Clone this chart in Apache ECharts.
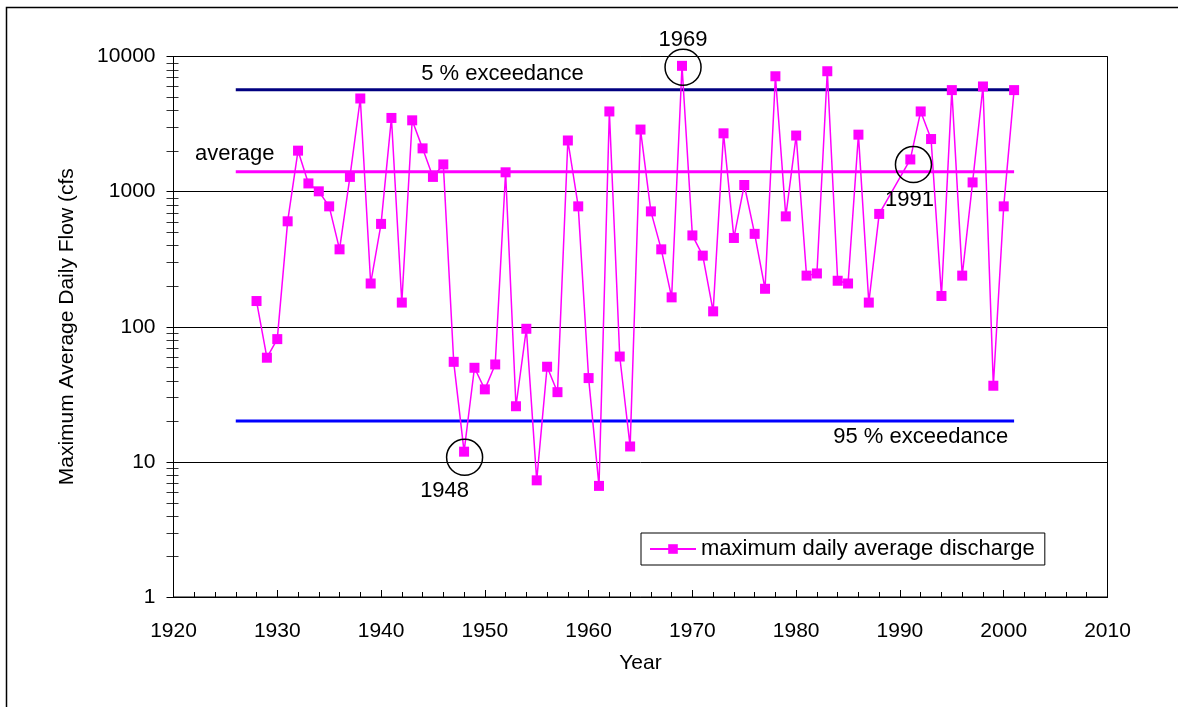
<!DOCTYPE html>
<html>
<head>
<meta charset="utf-8">
<script src="https://cdn.jsdelivr.net/npm/echarts@6/dist/echarts.min.js"></script>
<style>
  html, body { margin: 0; padding: 0; background: #fff; }
  #chart { width: 1178px; height: 707px; }
</style>
</head>
<body>
<div id="chart"></div>
<script>
// Annual maximum average daily flow (cfs); 1989 and 1990 are missing from the record.
const years = [
  1928, 1929, 1930, 1931, 1932, 1933, 1934, 1935, 1936, 1937,
  1938, 1939, 1940, 1941, 1942, 1943, 1944, 1945, 1946, 1947,
  1948, 1949, 1950, 1951, 1952, 1953, 1954, 1955, 1956, 1957,
  1958, 1959, 1960, 1961, 1962, 1963, 1964, 1965, 1966, 1967,
  1968, 1969, 1970, 1971, 1972, 1973, 1974, 1975, 1976, 1977,
  1978, 1979, 1980, 1981, 1982, 1983, 1984, 1985, 1986, 1987,
  1988, 1991, 1992, 1993, 1994, 1995, 1996, 1997, 1998, 1999,
  2000, 2001
];
const flows = [
  155, 59, 81, 603, 2010, 1150, 1005, 778, 374, 1285,
  4890, 209, 577, 3510, 151, 3370, 2090, 1285, 1590, 55,
  11.9, 49.7, 34.4, 52.6, 1390, 25.8, 96.6, 7.3, 50.6, 32.8,
  2390, 778, 41.7, 6.64, 3920, 60.2, 13.0, 2880, 714, 374,
  165, 8530, 474, 336, 130, 2700, 454, 1120, 487, 191,
  7140, 656, 2600, 239, 248, 7780, 219, 209, 2640, 151,
  684, 1730, 3920, 2450, 169, 5640, 239, 1170, 6000, 36.6,
  778, 5640
];

// Reference levels and the period they span
const refSpan = [1926, 2001];
const averageFlow = 1406;
const exceed5 = 5664;
const exceed95 = 20.1;

// Axis settings
const yearTicks = { min: 1920, max: 2010, interval: 10 };
const flowTicks = { min: 1, max: 10000 };

// Highlighted years
const highlightYears = ['1948', '1969', '1991'];

const FONT = 'Liberation Sans, Arial, sans-serif';
const seriesName = 'maximum daily average discharge';

const chart = echarts.init(document.getElementById('chart'), null, { renderer: 'canvas' });

const refSeries = (name, value, color) => ({
  name: name,
  type: 'line',
  data: refSpan.map(y => [y, value]),
  symbol: 'none',
  silent: true,
  lineStyle: { color: color, width: 3 },
  z: 1
});

const textMark = (coord, text) => ({
  coord: coord,
  symbol: 'circle',
  symbolSize: 1,
  itemStyle: { color: 'rgba(0,0,0,0)' },
  label: {
    show: true, position: 'inside', formatter: text,
    color: '#000', fontSize: 22, fontFamily: FONT
  }
});

const circleMark = (coord, text, offset) => ({
  coord: coord,
  symbol: 'circle',
  symbolSize: 36,
  itemStyle: { color: 'rgba(0,0,0,0)', borderColor: '#000', borderWidth: 1.5 },
  label: {
    show: true, position: 'inside', formatter: text, offset: offset,
    color: '#000', fontSize: 22, fontFamily: FONT
  }
});

const avg = refSeries('average', averageFlow, '#FF00FF');
avg.markPoint = { silent: true, data: [textMark([1925.9, 1910], 'average')] };
const e5 = refSeries('5 % exceedance', exceed5, '#000080');
e5.markPoint = { silent: true, data: [textMark([1951.7, 7480], '5 % exceedance')] };
const e95 = refSeries('95 % exceedance', exceed95, '#0000FF');
e95.markPoint = { silent: true, data: [textMark([1992, 15.3], '95 % exceedance')] };

chart.setOption({
  animation: false,
  backgroundColor: '#fff',
  textStyle: { fontFamily: FONT },
  grid: { left: 173.5, right: 70.5, top: 56.5, bottom: 110, show: true, borderColor: '#000', borderWidth: 1, backgroundColor: 'transparent' },
  legend: {
    data: [seriesName],
    left: 641, top: 533,
    orient: 'horizontal',
    borderColor: '#000', borderWidth: 1,
    padding: [5, 10, 5, 8],
    itemWidth: 46, itemHeight: 12,
    backgroundColor: '#fff',
    textStyle: { fontSize: 22, color: '#000', fontFamily: FONT }
  },
  xAxis: {
    type: 'value',
    min: yearTicks.min, max: yearTicks.max, interval: yearTicks.interval,
    name: 'Year', nameLocation: 'middle', nameGap: 56,
    nameTextStyle: { fontSize: 21, color: '#000', fontFamily: FONT },
    axisLine: { show: true, onZero: false, lineStyle: { color: '#000', width: 1 } },
    axisTick: { show: true, inside: true, length: 7, lineStyle: { color: '#000' } },
    minorTick: { show: true, splitNumber: 5, length: 5, lineStyle: { color: '#000' } },
    axisLabel: { fontSize: 21, color: '#000', margin: 24, fontFamily: FONT, formatter: v => String(v) },
    splitLine: { show: false }
  },
  yAxis: {
    type: 'log', logBase: 10,
    min: flowTicks.min, max: flowTicks.max,
    name: 'Maximum Average Daily Flow (cfs', nameLocation: 'middle', nameGap: 96,
    nameRotate: 90,
    nameTextStyle: { fontSize: 21, color: '#000', fontFamily: FONT },
    axisLine: { show: true, lineStyle: { color: '#000', width: 1 } },
    axisTick: { show: true, inside: false, length: 7, lineStyle: { color: '#000' } },
    axisLabel: { fontSize: 21, color: '#000', margin: 18, fontFamily: FONT, formatter: v => String(Math.round(v)) },
    splitLine: { show: true, lineStyle: { color: '#000', width: 1 } }
  },
  series: [
    e5, e95, avg,
    {
      name: seriesName,
      type: 'line',
      data: years.map((y, i) => [y, flows[i]]),
      symbol: 'rect',
      symbolSize: 10,
      itemStyle: { color: '#FF00FF' },
      lineStyle: { color: '#FF00FF', width: 1.5 },
      z: 3,
      markPoint: {
        silent: true,
        data: [
          circleMark([1948.05, 10.8], highlightYears[0], [-20, 34]),
          circleMark([1969.1, 8330], highlightYears[1], [0, -27]),
          circleMark([1991.3, 1585], highlightYears[2], [-4, 35])
        ]
      }
    }
  ]
});

// Minor log ticks on the value axis (crossing the axis line) and the outer frame
function drawExtras() {
  const els = [];
  const x0 = chart.convertToPixel({ xAxisIndex: 0 }, yearTicks.min);
  for (let k = 0; k < 4; k++) {
    for (let d = 2; d <= 9; d++) {
      const v = d * Math.pow(10, k);
      const y = Math.round(chart.convertToPixel({ yAxisIndex: 0 }, v)) + 0.5;
      els.push({
        type: 'line', silent: true,
        shape: { x1: x0 - 7, y1: y, x2: x0 + 5, y2: y },
        style: { stroke: '#333', lineWidth: 1 }
      });
    }
  }
  els.push({
    type: 'rect', silent: true, z: -1,
    shape: { x: 6.5, y: 7.5, width: 1300, height: 900 },
    style: { fill: 'none', stroke: '#000', lineWidth: 1.5 }
  });
  chart.setOption({ graphic: els });
}
drawExtras();
</script>
</body>
</html>
